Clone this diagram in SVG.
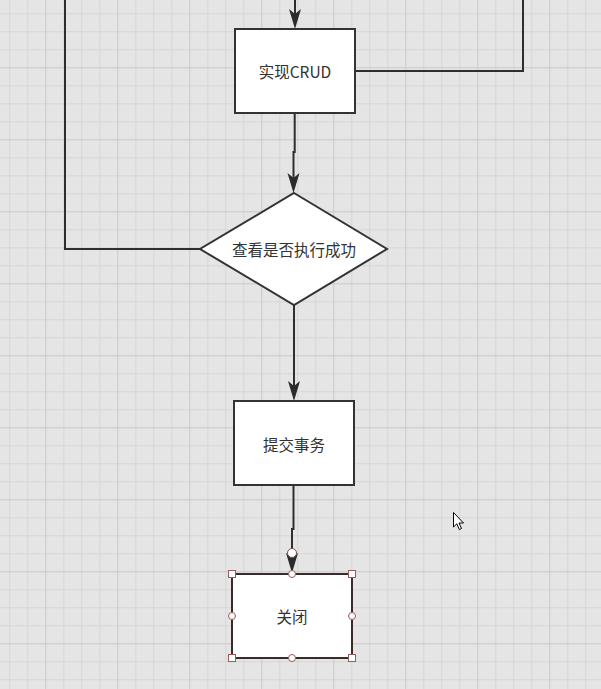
<svg xmlns="http://www.w3.org/2000/svg" width="601" height="689" viewBox="0 0 601 689">
<defs>
<pattern id="grid" patternUnits="userSpaceOnUse" x="-26.7" y="-4.7" width="72" height="72">
<rect width="72" height="72" fill="#e5e5e5"/>
<path d="M18.5 0V72M36.5 0V72M54.5 0V72M0 18.5H72M0 36.5H72M0 54.5H72" stroke="#d6d6d6" stroke-width="1"/>
<path d="M0.5 0V72M0 0.5H72" stroke="#c9c9c9" stroke-width="1"/>
</pattern>
</defs>
<style>
.node{fill:#ffffff;stroke:#333333;stroke-width:2}
.sel{fill:#ffffff;stroke:#3a2b2b;stroke-width:2}
.edge{fill:none;stroke:#2e2e2e;stroke-width:2}
.ah{fill:#2b2b2b}
.lbl{font-family:"Noto Sans CJK SC","Noto Sans",sans-serif;font-size:15.5px;fill:#333333;text-anchor:middle;dominant-baseline:central}
.h{fill:#ffffff;stroke:#9a5a5a;stroke-width:1}
</style>
<rect width="601" height="689" fill="url(#grid)"/>
<g id="connectors">
<path class="edge" d="M295 0V21"/>
<path class="ah" d="M289 9 L295 29 L301 9 L295 14 Z"/>
<path class="edge" d="M355 71H523V0"/>
<path class="edge" d="M294.7 113V152H293.5V186"/>
<path class="ah" d="M287.5 173 L293.5 193 L299.5 173 L293.5 178 Z"/>
<path class="edge" d="M200 249H65V0"/>
<path class="edge" d="M294 305V394"/>
<path class="ah" d="M288 381 L294 401 L300 381 L294 386 Z"/>
<path class="edge" d="M293.5 485V529H292V566"/>
<path class="ah" d="M286 553 L292 573 L298 553 L292 558 Z"/>
<circle cx="292" cy="553" r="4.5" fill="#ffffff" stroke="#7a4a4a" stroke-width="1"/>
</g>
<g id="crud">
<rect class="node" x="235" y="29" width="120" height="84"/>
<text class="lbl" x="295" y="71">实现CRUD</text>
</g>
<g id="check">
<polygon class="node" points="294,193 387,249 294,305 200,249"/>
<text class="lbl" x="294" y="249">查看是否执行成功</text>
</g>
<g id="commit">
<rect class="node" x="234" y="401" width="120" height="84"/>
<text class="lbl" x="294" y="444">提交事务</text>
</g>
<g id="close">
<rect class="sel" x="232" y="574" width="120" height="84"/>
<text class="lbl" x="292" y="616">关闭</text>
<rect class="h" x="228.5" y="570.5" width="7" height="7"/>
<rect class="h" x="348.5" y="570.5" width="7" height="7"/>
<rect class="h" x="228.5" y="654.5" width="7" height="7"/>
<rect class="h" x="348.5" y="654.5" width="7" height="7"/>
<circle class="h" cx="292" cy="574" r="3.5"/>
<circle class="h" cx="292" cy="658" r="3.5"/>
<circle class="h" cx="232" cy="616" r="3.5"/>
<circle class="h" cx="352" cy="616" r="3.5"/>
</g>
<g id="cursor">
<path d="M453.5 512.5 V527 L456.8 523.8 L459.3 529.5 L461.5 528.5 L459 523 L463.5 523 Z" fill="#ffffff" stroke="#000000" stroke-width="1" stroke-linejoin="round"/>
</g>
</svg>
